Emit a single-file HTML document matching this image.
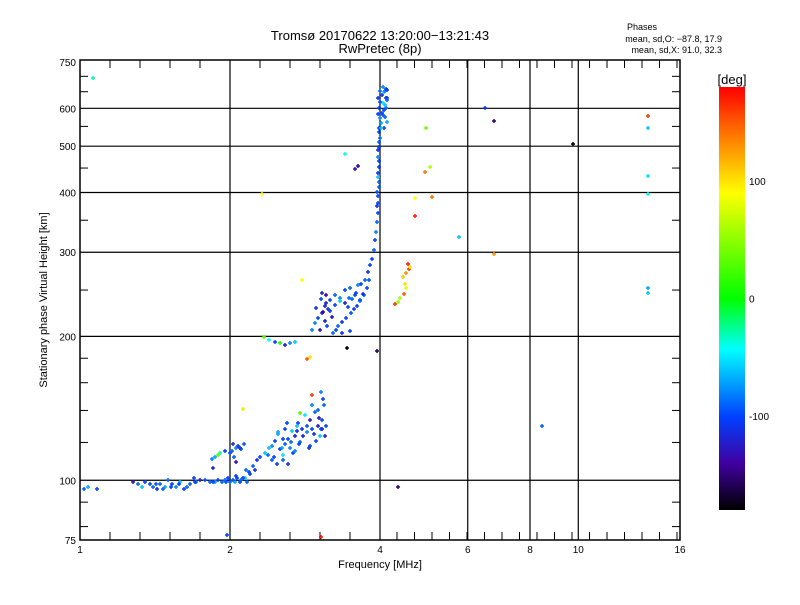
<!DOCTYPE html>
<html><head><meta charset="utf-8"><style>
body{margin:0;background:#fff;font-family:"Liberation Sans",sans-serif}
svg text{font-family:"Liberation Sans",sans-serif;fill:#000}
</style></head><body>
<svg id="c" width="800" height="600" xmlns="http://www.w3.org/2000/svg">
<defs><linearGradient id="cb" x1="0" y1="0" x2="0" y2="1">
<stop offset="0" stop-color="#ff0000"/><stop offset="0.1" stop-color="#ff6a00"/><stop offset="0.25" stop-color="#ffff00"/><stop offset="0.5" stop-color="#00ff00"/><stop offset="0.62" stop-color="#00ffff"/><stop offset="0.78" stop-color="#0040ff"/><stop offset="0.89" stop-color="#4000a0"/><stop offset="1" stop-color="#000000"/></linearGradient></defs>
<text x="380" y="40" font-size="13" text-anchor="middle">Tromsø 20170622 13:20:00−13:21:43</text>
<text x="380" y="53" font-size="13" text-anchor="middle">RwPretec (8p)</text>
<text x="642" y="30" font-size="9" text-anchor="middle">Phases</text>
<text x="722" y="42" font-size="9" text-anchor="end">mean, sd,O: −87.8, 17.9</text>
<text x="722" y="53" font-size="9" text-anchor="end">mean, sd,X:  91.0, 32.3</text>
<text x="380" y="568" font-size="11" text-anchor="middle">Frequency [MHz]</text>
<text transform="translate(47,300) rotate(-90)" font-size="11" text-anchor="middle">Stationary phase Virtual Height [km]</text>
<rect x="719" y="87" width="26" height="423" fill="url(#cb)"/>
<text x="732" y="84" font-size="13" text-anchor="middle">[deg]</text>
<g id="grid"></g><g id="pts"></g>
<rect x="80" y="60" width="600" height="480" fill="none" stroke="#000" stroke-width="1.5"/>
</svg>
<script>
const xTicks=[1,2,4,6,8,10,16];
const yTicks=[75,100,200,300,400,500,600,750];
const cbTicks=[100,0,-100];
const freqs=[1.019,1.04,1.08,1.28,1.31,1.33,1.38,1.40,1.43,1.45,1.48,1.50,1.53,1.56,1.59,1.62,1.66,1.69,1.71,1.74,1.82,1.87,1.89,1.93,1.96,2.0,2.05,2.09,2.14,2.16,2.12,2.19,2.24,
1.84,1.87,1.91,1.89,1.95,2.02,2.06,2.09,2.03,2.06,1.85,2.06,2.15,2.12,
2.35,2.38,2.43,2.46,2.50,2.52,2.56,2.58,2.62,2.64,2.66,2.70,2.74,2.77,2.79,2.83,2.86,2.89,2.92,2.96,3.00,3.03,3.06,3.09,3.08,3.05,2.43,2.48,2.54,2.60,2.72,2.88,2.97,2.92,3.02,3.06,3.11,2.68,2.77,2.92,
2.34,2.40,2.46,2.52,2.58,2.64,2.70,
2.92,2.96,3.00,3.06,3.11,3.17,3.25,3.33,3.40,3.48,3.56,3.61,3.67,3.74,3.79,3.82,3.86,3.89,3.91,3.93,3.94,3.96,3.94,3.96,3.98,3.96,3.98,3.96,3.98,4.0,3.98,4.0,3.98,3.96,4.0,4.07,4.11,4.05,4.11,4.04,4.13,4.07,4.09,4.14,4.02,
3.03,3.10,3.17,3.25,3.33,3.11,3.06,2.97,3.46,3.65,3.71,
3.40,3.56,3.61,2.32,2.79,2.85,3.43,3.94,4.35,1.97,3.05,2.89,
4.55,4.57,4.52,4.45,4.48,4.52,4.46,4.38,4.35,4.28,4.6,
4.94,5.03,4.92,4.7,5.09,4.7,5.77,6.77,6.77,6.5,9.74,8.46,13.8,13.8,13.8,13.8,13.8,13.8,1.06,
3.27,3.30,3.36,3.42,3.50,3.55,3.60,3.65,3.70,3.76,3.80,3.45,3.40,3.52,3.58,3.20,3.15,3.10,3.05,3.08,3.13,3.22,3.35,3.48,
3.97,3.95,3.99,3.97,3.99,3.97,3.99,3.98,4.02,4.05,4.08,4.1,4.13,4.03,4.12,4.06,4.14,4.0,4.09,3.97,
2.45,2.55,2.62,2.7,2.75,2.8,2.85,2.9,2.95,3.0,3.05,3.1,2.5,2.58,2.65,2.72,2.4,2.55,
2.0,2.04,2.08,2.1,2.13,2.18,2.22,2.27,2.3,1.95,1.98,2.03,2.07,2.1,
1.35,1.42,1.47,1.52,1.58,1.64,1.7,1.78,1.85];
const heights=[96,97,96,99,98,97,98,97,96,98,97,100,98,97,99,96,98,101,99,100,99,99,100,99,99,99,99,99,101,99,101,103,105,
111,112,114,113,115,115,117,117,119,109,106,102,105,141,
114,113,118,121,126,116,113,119,122,117,127,124,132,120,128,137,126,134,128,139,130,124,134,144,148,153,110,108,117,132,130,117,121,144,135,128,130,114,138,151,
199,197,195,194,192,194,195,
206,213,218,224,235,238,244,241,250,253,244,256,258,262,273,282,291,303,318,330,347,362,375,393,411,431,453,475,498,521,547,574,602,632,653,648,632,617,602,588,562,547,653,632,547,
206,215,226,233,237,244,246,229,241,238,244,
482,449,455,397,263,179,189,186,97,77,76,181,
284,277,272,266,258,252,245,241,236,234,280,
547,452,441,389,392,357,323,297,565,602,505,130,578,545,433,397,253,246,693,
206,210,214,219,224,228,232,237,245,252,262,230,235,240,246,220,228,232,240,225,210,203,203,205,
380,400,420,440,465,490,510,535,560,580,595,610,625,640,660,665,655,620,575,585,
112,110,108,115,119,124,130,118,125,140,128,124,125,128,120,127,117,122,
114,112,118,116,119,104,107,110,112,100,101,100,101,100,
99,98,96,97,98,97,99,100,99];
const phases=[-90,-70,-100,-130,-90,-60,-100,-90,-110,-90,-70,-90,-100,-80,-60,-100,-90,-100,-80,-120,-90,-70,-100,-90,-100,-90,-70,-100,-60,-90,-100,-100,-110,
-80,-70,-30,30,-100,-90,-80,-120,-110,-130,-120,-100,-90,100,
-60,-90,-80,-100,-70,-110,-50,-90,-100,-80,-60,-120,-100,-90,-110,-50,-80,-130,-100,-90,-120,-60,-100,-90,-100,-80,-90,-100,-70,-100,-60,-110,-100,-80,-130,-140,-100,-100,30,160,
30,-40,-100,10,-120,-80,-60,
-80,-80,-100,-110,-120,-100,-90,-80,-100,-90,-100,-80,-100,-90,-110,-100,-100,-90,-100,-80,-90,-100,-110,-100,-90,-60,-100,-80,-100,-90,-100,-80,-100,-110,-90,-60,-100,-50,-90,-100,-70,-100,-80,-110,-60,
-130,-120,-100,-100,-60,-140,-120,-110,-90,-100,-90,
-40,-130,-140,90,90,150,-180,-160,-150,-100,170,100,
170,160,130,110,100,80,150,60,50,160,100,
40,60,140,90,140,170,-60,130,-150,-110,-180,-90,160,-60,-50,-40,-70,-60,-30,
-100,-90,-110,-100,-95,-105,-100,-90,-110,-100,-95,-100,-120,-90,-100,-130,-110,-120,-100,-140,-100,-90,-110,-100,
-100,-95,-90,-105,-100,-110,-90,-100,-70,-95,-100,-60,-90,-110,-100,-80,-105,-100,-90,-100,
-100,-90,-110,-80,-100,-120,-95,-100,-110,-90,-100,-120,-70,-100,-90,-110,-60,-100,
-100,-90,-110,-100,-95,-100,-90,-110,-100,-90,-100,-95,-100,-90,
-100,-95,-90,-100,-105,-90,-100,-95,-100];
const NS='http://www.w3.org/2000/svg';
const X=f=>80+150*Math.log2(f);
const Y=h=>540-478*Math.log10(h/75);
const stops=[[180,[255,0,0]],[144,[255,106,0]],[90,[255,255,0]],[0,[0,255,0]],[-43,[0,255,255]],[-101,[0,64,255]],[-140,[64,0,160]],[-180,[0,0,0]]];
function col(p){for(let i=0;i<stops.length-1;i++){const a=stops[i],b=stops[i+1];if(p<=a[0]&&p>=b[0]){const t=(a[0]-p)/(a[0]-b[0]);const c=a[1].map((v,k)=>Math.round(v+(b[1][k]-v)*t));return 'rgb('+c.join(',')+')';}}return '#000';}
function mk(tag,at,par){const e=document.createElementNS(NS,tag);for(const k in at)e.setAttribute(k,at[k]);par.appendChild(e);return e;}
const g=document.getElementById('grid'),svg=document.getElementById('c'),P=document.getElementById('pts');
xTicks.forEach(v=>{const x=X(v);
if(v>1&&v<16){const l=mk('line',{x1:x,x2:x,y1:60,y2:540,stroke:'#000','stroke-width':1.2},g);

}
const t=mk('text',{x:x,y:553,'font-size':10,'text-anchor':'middle'},svg);t.textContent=v;

});
yTicks.forEach(v=>{const y=Y(v);
if(v>75&&v<750){const l=mk('line',{x1:80,x2:680,y1:y,y2:y,stroke:'#000','stroke-width':1.2},g);

}
const t=mk('text',{x:76,y:y+4,'font-size':10,'text-anchor':'end'},svg);t.textContent=v;

});
const minX=[];for(let x=110;x<380;x+=30)minX.push(x);for(let x=397;x<680;x+=17.5)minX.push(x);
minX.forEach(x=>{mk('line',{x1:x,x2:x,y1:540,y2:532,stroke:'#000'},g);mk('line',{x1:x,x2:x,y1:60,y2:68,stroke:'#000'},g);});
[80,90,120,140,160,180,250,350,450,550,650,700].forEach(h=>{const y=Y(h);mk('line',{x1:80,x2:88,y1:y,y2:y,stroke:'#000'},g);mk('line',{x1:680,x2:672,y1:y,y2:y,stroke:'#000'},g);});
cbTicks.forEach(v=>{const y=87+(180-v)/360*423;const t=mk('text',{x:749,y:y+4,'font-size':10},svg);t.textContent=v;

});
freqs.forEach((f,i)=>{const x=Math.round(X(f)),y=Math.round(Y(heights[i])),c=col(phases[i]);
const p=mk('path',{d:`M${x-2} ${y}h4M${x} ${y-2}v4`,stroke:c,'stroke-width':1.5},P);

});
</script>
</body></html>
